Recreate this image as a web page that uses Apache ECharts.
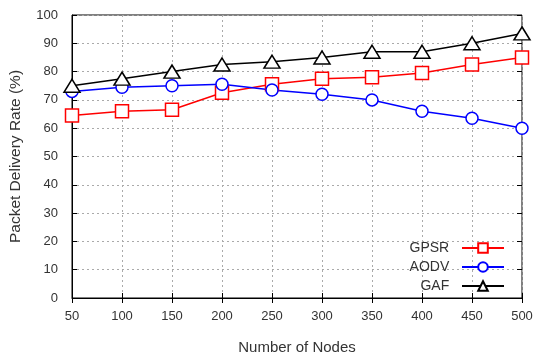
<!DOCTYPE html>
<html><head><meta charset="utf-8">
<script src="https://cdn.jsdelivr.net/npm/echarts@6/dist/echarts.min.js"></script>
<style>html,body{margin:0;padding:0;background:#fff}#c{width:533px;height:355px}</style>
</head><body><div id="c"></div>
<script>
const nodes = [50, 100, 150, 200, 250, 300, 350, 400, 450, 500];
const gpsr = [64.5, 66, 66.5, 72.5, 75.5, 77.5, 78, 79.5, 82.5, 85];
const aodv = [73, 74.5, 75, 75.5, 73.5, 72, 70, 66, 63.5, 60];
const gaf  = [75, 77.5, 80, 82.5, 83.5, 85, 87, 87, 90, 93.5];
const seriesNames = ['GPSR', 'AODV', 'GAF'];

const font = 'Liberation Sans, Arial, sans-serif';
const pairs = arr => nodes.map((n, i) => [n, arr[i]]);
const chart = echarts.init(document.getElementById('c'));
const gridLine = {show: true, lineStyle: {color: '#aaa', type: [2, 3], width: 1}};
chart.setOption({
  animation: false,
  grid: {left: 72, right: 11, top: 15, bottom: 57, show: true, borderColor: '#000', borderWidth: 1,
         containLabel: false, outerBoundsMode: 'none'},
  xAxis: [{
    type: 'value', min: 50, max: 500, interval: 50,
    name: 'Number of Nodes', nameLocation: 'middle', nameGap: 42,
    nameTextStyle: {color: '#333', fontSize: 15, fontFamily: font},
    axisLine: {show: true, lineStyle: {color: '#000'}},
    axisTick: {show: true, inside: true, length: 5, lineStyle: {color: '#000'}},
    axisLabel: {color: '#333', fontSize: 13, fontFamily: font, margin: 12},
    splitLine: gridLine
  }, {
    type: 'value', position: 'top', min: 50, max: 500, interval: 50,
    axisLine: {show: false}, axisTick: {show: true, inside: true, length: 5, lineStyle: {color: '#000'}},
    axisLabel: {show: false}, splitLine: {show: false}
  }],
  yAxis: [{
    type: 'value', min: 0, max: 100, interval: 10,
    name: 'Packet Delivery Rate (%)', nameLocation: 'middle', nameGap: 48,
    nameTextStyle: {color: '#333', fontSize: 15.5, fontFamily: font},
    axisLine: {show: true, lineStyle: {color: '#000'}},
    axisTick: {show: true, inside: true, length: 5, lineStyle: {color: '#000'}},
    axisLabel: {color: '#333', fontSize: 13, fontFamily: font, margin: 14},
    splitLine: gridLine
  }, {
    type: 'value', position: 'right', min: 0, max: 100, interval: 10,
    axisLine: {show: false}, axisTick: {show: true, inside: true, length: 5, lineStyle: {color: '#000'}},
    axisLabel: {show: false}, splitLine: {show: false}
  }],
  legend: {
    orient: 'vertical', right: 23, top: 236, align: 'right',
    itemWidth: 42, itemHeight: 12, itemGap: 5,
    formatter: name => name + '  ',
    textStyle: {color: '#333', fontSize: 14, fontFamily: font},
    data: seriesNames
  },
  series: [
    {name: 'GPSR', type: 'line', data: pairs(gpsr), symbol: 'rect', symbolSize: 13,
     itemStyle: {color: '#fff', borderColor: '#ff0000', borderWidth: 1.5},
     lineStyle: {color: '#ff0000', width: 1.5}, color: '#ff0000'},
    {name: 'AODV', type: 'line', data: pairs(aodv), symbol: 'circle', symbolSize: 12,
     itemStyle: {color: '#fff', borderColor: '#0000ff', borderWidth: 1.5},
     lineStyle: {color: '#0000ff', width: 1.5}, color: '#0000ff'},
    {name: 'GAF', type: 'line', data: pairs(gaf), symbol: 'triangle', symbolSize: [16, 13],
     itemStyle: {color: '#fff', borderColor: '#000', borderWidth: 1.5},
     lineStyle: {color: '#000', width: 1.5}, color: '#000'}
  ]
});
</script></body></html>
